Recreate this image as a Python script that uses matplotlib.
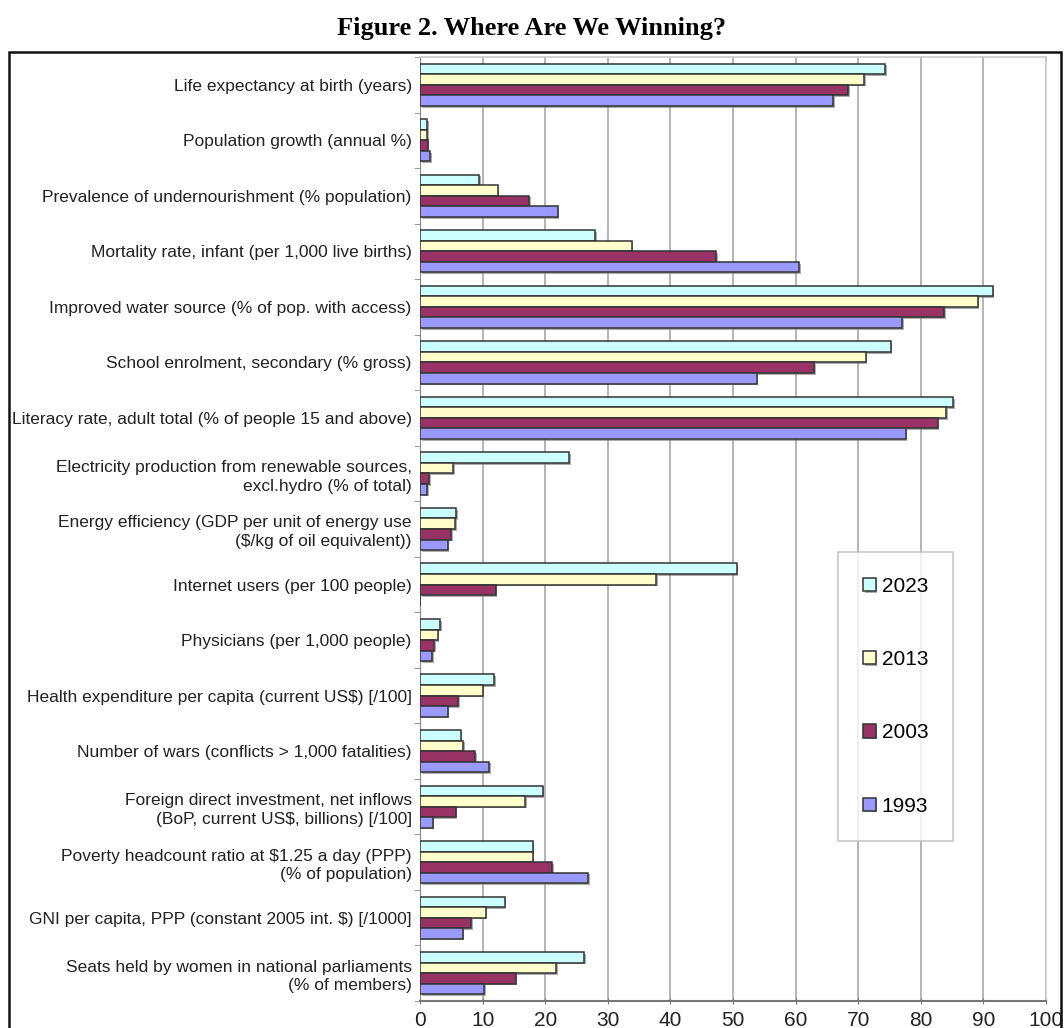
import matplotlib
matplotlib.use("Agg")
import matplotlib.pyplot as plt
import matplotlib.patheffects as pe
import numpy as np
from matplotlib.patches import Rectangle

categories = [
    "Life expectancy at birth (years)",
    "Population growth (annual %)",
    "Prevalence of undernourishment (% population)",
    "Mortality rate, infant (per 1,000 live births)",
    "Improved water source (% of pop. with access)",
    "School enrolment, secondary (% gross)",
    "Literacy rate, adult total (% of people 15 and above)",
    "Electricity production from renewable sources,\nexcl.hydro (% of total)",
    "Energy efficiency (GDP per unit of energy use\n($/kg of oil equivalent))",
    "Internet users (per 100 people)",
    "Physicians (per 1,000 people)",
    "Health expenditure per capita (current US$) [/100]",
    "Number of wars (conflicts > 1,000 fatalities)",
    "Foreign direct investment, net inflows\n(BoP, current US$, billions) [/100]",
    "Poverty headcount ratio at $1.25 a day (PPP)\n(% of population)",
    "GNI per capita, PPP (constant 2005 int. $) [/1000]",
    "Seats held by women in national parliaments\n(% of members)",
]

years = ["2023", "2013", "2003", "1993"]
v2023 = [74.3, 1.1, 9.5, 28.0, 91.5, 75.2, 85.2, 23.8, 5.75, 50.6, 3.2, 11.9, 6.5, 19.6, 18.0, 13.5, 26.2]
v2013 = [70.9, 1.1, 12.4, 33.8, 89.1, 71.2, 84.1, 5.3, 5.6, 37.7, 2.8, 10.0, 6.9, 16.8, 18.0, 10.5, 21.8]
v2003 = [68.4, 1.2, 17.4, 47.3, 83.7, 63.0, 82.7, 1.5, 5.0, 12.1, 2.3, 6.1, 8.8, 5.7, 21.1, 8.2, 15.3]
v1993 = [66.0, 1.6, 22.0, 60.6, 77.0, 53.8, 77.6, 1.1, 4.4, 0.0, 1.9, 4.4, 11.0, 2.0, 26.9, 6.8, 10.3]
series = [v2023, v2013, v2003, v1993]
colors = ["#CCFFFF", "#FFFFCC", "#993366", "#9999FF"]

title = "Figure 2. Where Are We Winning?"
xticks = [0, 10, 20, 30, 40, 50, 60, 70, 80, 90, 100]

fig = plt.figure(figsize=(10.64, 10.28), dpi=100)
fig.patch.set_facecolor("white")

# outer frame
fig.patches.append(Rectangle((9/1064, -0.05), (1061-9)/1064, 1 - 52/1028 + 0.05,
                             transform=fig.transFigure, fill=False,
                             edgecolor="#111111", linewidth=1.8, zorder=0))

fig.text(0.5, 1 - 28/1028, title, ha="center", va="center",
         fontfamily="Liberation Serif", fontweight="bold", fontsize=19)

ax = fig.add_axes([420/1064, 1 - 1001/1028, (1046-420)/1064, (1001-57)/1028])

n = len(categories)
y = np.arange(n)
h = 0.19
offsets = [-1.5*h, -0.5*h, 0.5*h, 1.5*h]
shadow = [pe.SimplePatchShadow(offset=(1.2, -1.2), shadow_rgbFace="#777777", alpha=0.6), pe.Normal()]
for vals, col, off, yr in zip(series, colors, offsets, years):
    bars = ax.barh(y + off, vals, height=h, color=col, edgecolor="#333333",
                   linewidth=1.1, label=yr, zorder=3)
    for b in bars:
        b.set_path_effects(shadow)

ax.set_xlim(0, 100)
ax.set_ylim(n - 0.5, -0.5)
ax.set_xticks(xticks)
ax.set_xticklabels([str(t) for t in xticks], fontfamily="Liberation Sans", fontsize=15)
ax.set_yticks(y)
ax.set_yticklabels(categories, fontfamily="Liberation Sans", fontsize=12.5, linespacing=1.3)
ax.set_yticks(np.arange(n + 1) - 0.5, minor=True)
ax.tick_params(axis="y", which="major", length=0, pad=6, colors="#222222")
ax.tick_params(axis="y", which="minor", length=4, direction="out", color="#888888")
ax.tick_params(axis="x", which="major", length=4, direction="inout", pad=5,
               color="#777777", labelcolor="#222222")
ax.grid(axis="x", color="#a8a8a8", linewidth=1.2, zorder=0)
ax.set_axisbelow(True)
for s in ["top", "right"]:
    ax.spines[s].set_color("#cccccc")
    ax.spines[s].set_linewidth(1.2)
ax.spines["left"].set_color("#888888")
ax.spines["bottom"].set_color("#777777")
ax.spines["bottom"].set_linewidth(1.5)

handles, labels = ax.get_legend_handles_labels()
leg = ax.legend(handles, labels, loc="upper left",
                bbox_to_anchor=((838-420)/626, 1 - (552-57)/944),
                frameon=True, fancybox=False, edgecolor="#bbbbbb",
                prop={"family": "Liberation Sans", "size": 15},
                handlelength=0.6, handleheight=0.6, handletextpad=0.3,
                labelspacing=2.6, borderpad=1.2, borderaxespad=0)
leg.get_frame().set_linewidth(1.2)

fig.savefig("out.png", dpi=100, facecolor="white")
